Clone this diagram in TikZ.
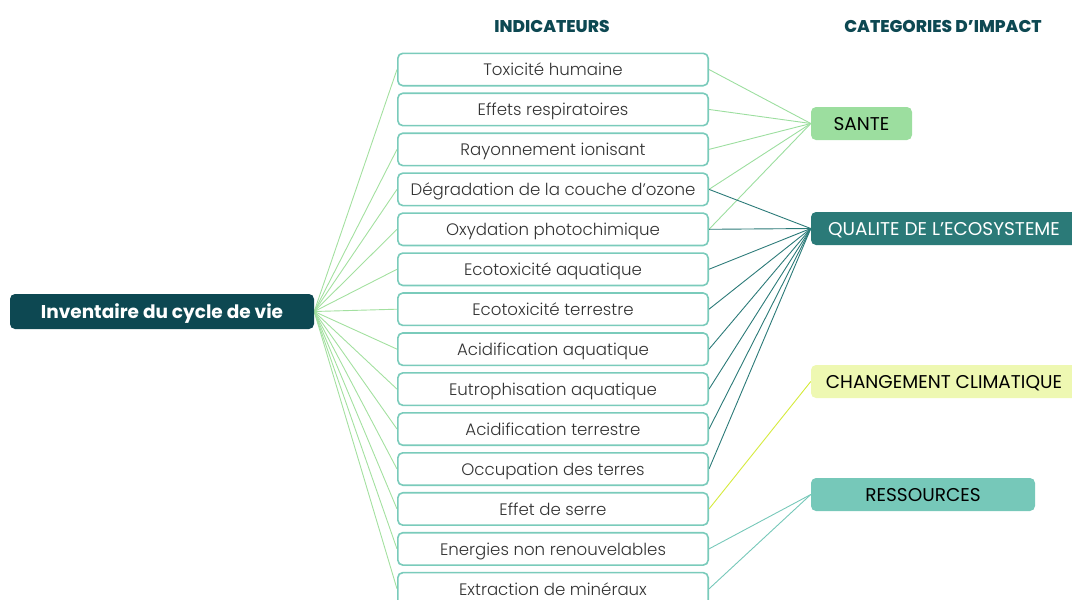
\documentclass[tikz,border=0pt]{standalone}
\usepackage{fontspec}
\setmainfont{Poppins}
\newfontfamily\indfont{Poppins Light}
\newfontfamily\hdrfont{Poppins ExtraBold}
\usetikzlibrary{backgrounds}
\definecolor{maindark}{HTML}{0D4852}
\definecolor{boxc}{HTML}{7ACBBB}
\definecolor{txt}{HTML}{333333}
\definecolor{leftc}{HTML}{A3E0A0}
\definecolor{santec}{HTML}{9CDE9F}
\definecolor{qualc}{HTML}{2B7A78}
\definecolor{chgc}{HTML}{EEF8B2}
\definecolor{chgline}{HTML}{D5EA3A}
\definecolor{ressc}{HTML}{76C8B9}
\tikzset{
  ind/.style={draw=boxc, line width=1.6pt, fill=white, rounded corners=5pt,
    minimum width=310.4pt, minimum height=32.4pt, inner sep=0pt, text=txt,
    text height=14pt, text depth=1.5pt,
    font=\indfont\fontsize{16.6}{18}\selectfont},
  mainbox/.style={fill=maindark, text=white, rounded corners=5pt,
    minimum width=304pt, minimum height=35pt, inner sep=0pt,
    text height=15pt, text depth=2pt,
    font=\bfseries\fontsize{18.5}{20}\selectfont},
  cat/.style={rounded corners=5pt, minimum height=33pt, inner sep=0pt,
    text height=15pt, text depth=1pt,
    font=\fontsize{18.5}{20}\selectfont},
  hdr/.style={text=maindark, inner sep=0pt, font=\hdrfont\fontsize{17}{19}\selectfont},
  conn/.style={line width=0.9pt}
}
\begin{document}
\begin{tikzpicture}[x=1pt,y=-1pt]
\useasboundingbox (0,0) rectangle (1072,600);
\clip (0,0) rectangle (1072,600);
\node[hdr] (h1) at (552,26) {INDICATEURS};
\node[hdr] (h2) at (943,26) {CATEGORIES D’IMPACT};
\node[mainbox] (inv) at (162,311.5) {Inventaire du cycle de vie};
\foreach \t [count=\i] in {Toxicité humaine, Effets respiratoires, Rayonnement ionisant,
  Dégradation de la couche d’ozone, Oxydation photochimique, Ecotoxicité aquatique,
  Ecotoxicité terrestre, Acidification aquatique, Eutrophisation aquatique,
  Acidification terrestre, Occupation des terres, Effet de serre,
  Energies non renouvelables, Extraction de minéraux}
  \node[ind] (i\i) at (553,{69.5+39.95*(\i-1)}) {\t};
\node[cat, fill=santec, text=black, minimum width=101pt] (sante) at (861.5,123.5) {SANTE};
\node[cat, fill=qualc, text=white, minimum width=266pt] (qual) at (944,228.5) {QUALITE DE L’ECOSYSTEME};
\node[cat, fill=chgc, text=black, minimum width=266pt] (chg) at (944,381.5) {CHANGEMENT CLIMATIQUE};
\node[cat, fill=ressc, text=black, minimum width=224pt] (ress) at (923,494.5) {RESSOURCES};
\begin{scope}[on background layer]
  \foreach \i in {1,3,4,5,6,7,8,9,10,11,12,13,14}
    \draw[conn, leftc] (inv.east) -- (i\i.west);
  \foreach \i in {1,...,5}
    \draw[conn, santec] (i\i.east) -- (sante.west);
  \foreach \i in {4,...,11}
    \draw[conn, qualc] (i\i.east) -- (qual.west);
  \draw[conn, chgline] (i12.east) -- (chg.west);
  \foreach \i in {13,14}
    \draw[conn, ressc] (i\i.east) -- (ress.west);
\end{scope}
\end{tikzpicture}
\end{document}
